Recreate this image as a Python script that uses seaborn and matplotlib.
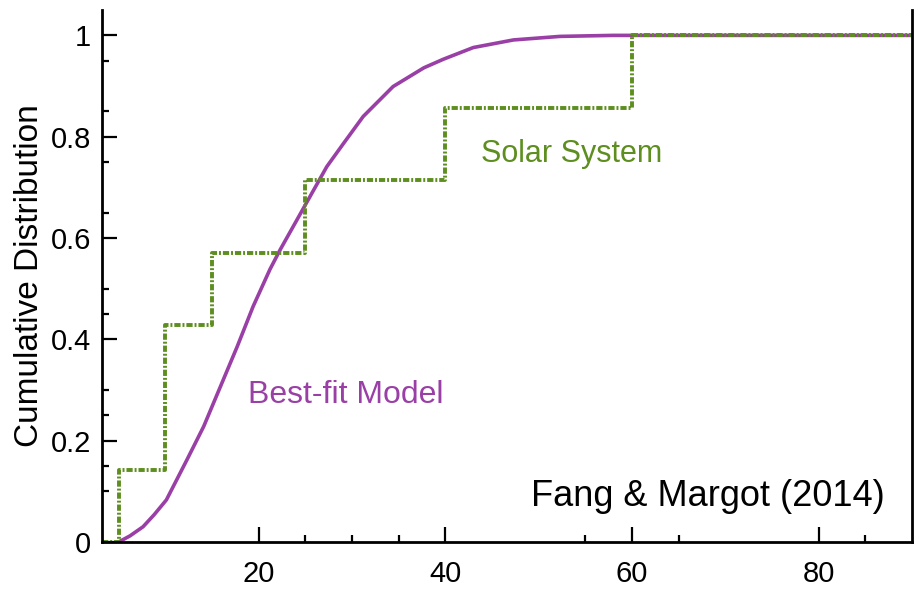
import numpy as np
import pandas as pd
import matplotlib
matplotlib.use("Agg")
import matplotlib.pyplot as plt
import seaborn as sns

# ==============================
# Data
# ==============================

# Solar System empirical CDF (steps)
solar_x = [3.2, 5, 10, 15, 25, 40, 60, 90]
solar_y = [0.0, 0.143, 0.429, 0.571, 0.714, 0.857, 1.0, 1.0]

# Best-fit model CDF
model_x = [5.0, 6.2, 7.6, 8.8, 10.1, 12.3, 14.1, 15.9, 17.7, 19.4, 21.2, 22.3,
           24.1, 25.5, 27.3, 29.1, 31.2, 34.4, 37.7, 39.8, 43.0, 47.3, 52.3,
           58.0, 90.0]
model_y = [0.0, 0.012, 0.030, 0.054, 0.083, 0.162, 0.228, 0.307, 0.386, 0.465,
           0.538, 0.577, 0.636, 0.682, 0.741, 0.787, 0.840, 0.899, 0.936, 0.953,
           0.976, 0.991, 0.998, 1.0, 1.0]

x_major = [20, 40, 60, 80]
x_minor = [25, 30, 35, 55, 65, 85]
y_major = [0, 0.2, 0.4, 0.6, 0.8, 1.0]
y_minor = [0.1, 0.15, 0.25, 0.3, 0.45, 0.5, 0.65, 0.75, 0.85, 0.95]
y_labels = ["0", "0.2", "0.4", "0.6", "0.8", "1"]

purple = "#9a3fa6"
green = "#5d8e1f"

# ==============================
# Plot
# ==============================

sns.set_style("ticks")
plt.rcParams['font.family'] = ['Liberation Sans', 'DejaVu Sans']

fig = plt.figure(figsize=(9.14, 5.91), dpi=100)
ax = fig.add_axes([0.1116, 0.083, 0.886, 0.90])

model_df = pd.DataFrame({'x': model_x, 'y': model_y})
solar_df = pd.DataFrame({'x': solar_x, 'y': solar_y})

sns.lineplot(data=model_df, x='x', y='y', ax=ax, color=purple, linewidth=2.6)
sns.lineplot(data=solar_df, x='x', y='y', ax=ax, color=green, linewidth=2.8,
             drawstyle='steps-post', linestyle=(0, (1.6, 0.5, 0.5, 0.5)))

ax.set_xlim(3.2, 90)
ax.set_ylim(0, 1.05)

ax.set_xticks(x_major)
ax.set_xticks(x_minor, minor=True)
ax.set_yticks(y_major)
ax.set_yticklabels(y_labels)
ax.set_yticks(y_minor, minor=True)

ax.tick_params(axis='both', which='major', direction='in', length=11, width=1.6,
               labelsize=21, color='black', labelcolor='black')
ax.tick_params(axis='both', which='minor', direction='in', length=5, width=1.6,
               color='black')
ax.tick_params(axis='x', which='major', pad=13)
ax.tick_params(axis='y', which='major', pad=8)

for side in ['left', 'bottom', 'right']:
    ax.spines[side].set_linewidth(2.0)
    ax.spines[side].set_color('black')
ax.spines['top'].set_visible(False)

ax.set_xlabel("")
ax.set_ylabel("Cumulative Distribution", fontsize=24, labelpad=4, color='black')

# Annotations
ax.text(53.5, 0.765, "Solar System", color=green, fontsize=22,
        ha='center', va='center')
ax.text(29.3, 0.29, "Best-fit Model", color=purple, fontsize=23,
        ha='center', va='center')
ax.text(87.1, 0.055, "Fang & Margot (2014)", color='black', fontsize=26,
        ha='right', va='bottom')

fig.savefig("out.png", dpi=100)
